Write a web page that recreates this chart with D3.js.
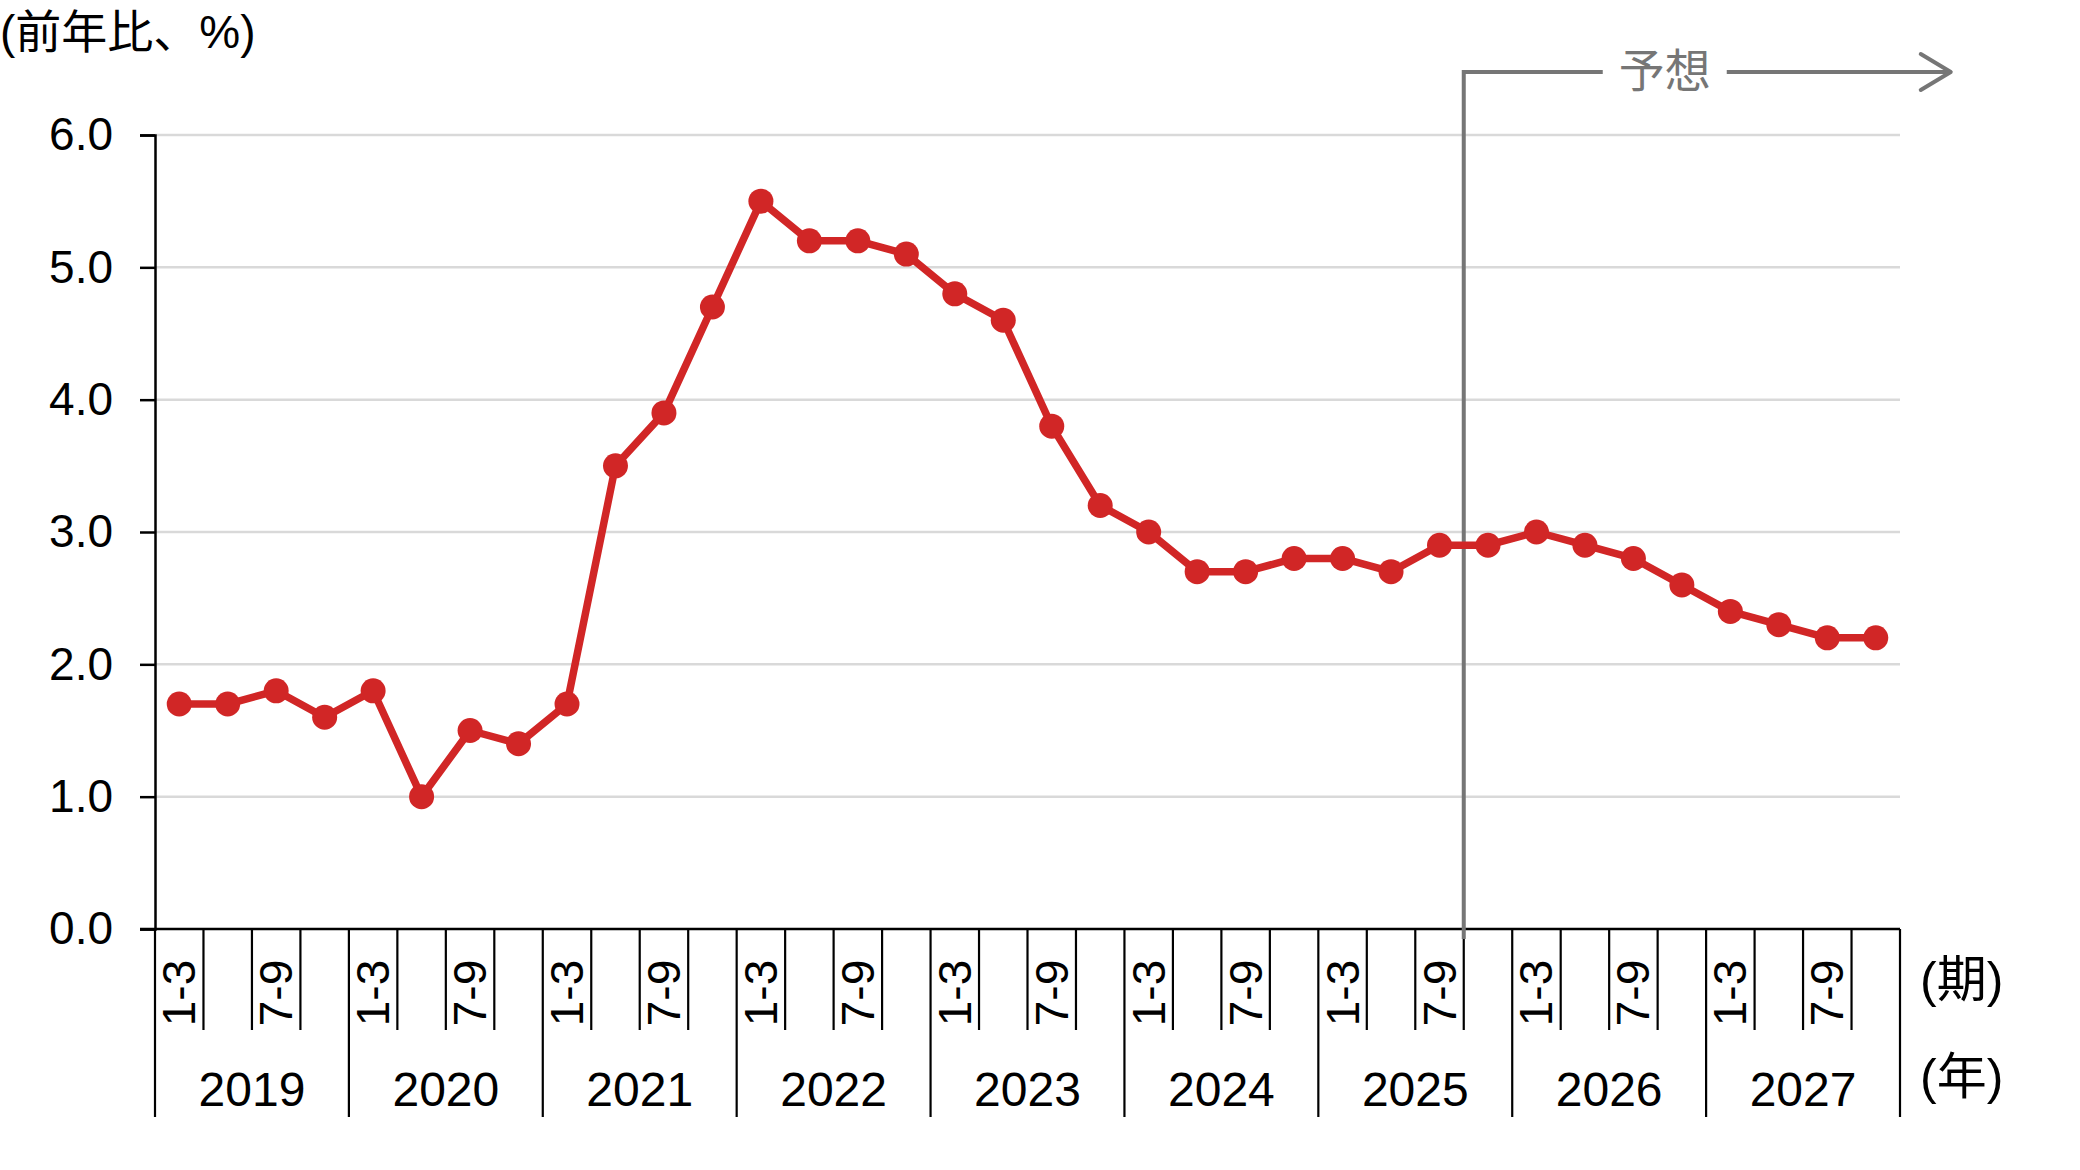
<!DOCTYPE html>
<html>
<head>
<meta charset="utf-8">
<script src="https://cdn.jsdelivr.net/npm/d3@7"></script>
<style>
  html, body { margin: 0; padding: 0; background: #ffffff; }
  svg { display: block; }
  text { font-family: "Liberation Sans", "Noto Sans CJK JP", sans-serif; }
</style>
</head>
<body>
<svg id="chart" width="2080" height="1170"></svg>
<script>
// ---- data ----
const years = ["2019", "2020", "2021", "2022", "2023", "2024", "2025", "2026", "2027"];
const quarters = ["1-3", "4-6", "7-9", "10-12"];
const values = [
  1.7, 1.7, 1.8, 1.6,   // 2019
  1.8, 1.0, 1.5, 1.4,   // 2020
  1.7, 3.5, 3.9, 4.7,   // 2021
  5.5, 5.2, 5.2, 5.1,   // 2022
  4.8, 4.6, 3.8, 3.2,   // 2023
  3.0, 2.7, 2.7, 2.8,   // 2024
  2.8, 2.7, 2.9, 2.9,   // 2025
  3.0, 2.9, 2.8, 2.6,   // 2026
  2.4, 2.3, 2.2, 2.2    // 2027
];
const yTicks = [0, 1, 2, 3, 4, 5, 6];
const yTitle = "(前年比、%)";
const quarterUnit = "(期)";
const yearUnit = "(年)";
const forecastLabel = "予想";
const forecastStartYear = "2025";
const forecastStartQuarter = "10-12";

(function () {
// ---- build categories ----
const categories = [];
years.forEach(y => quarters.forEach((q, i) => categories.push({ key: y + "-" + q, year: y, q: q, qi: i })));
const points = categories.map((c, i) => ({ ...c, v: values[i] }));

// ---- layout ----
const svg = d3.select("#chart");
const pLeft = 155, pRight = 1900, pTop = 135, pBottom = 929;
const FS = 46;

const x = d3.scaleBand().domain(categories.map(c => c.key)).range([pLeft, pRight]).padding(0);
const y = d3.scaleLinear().domain([0, 6]).range([pBottom, pTop]);

svg.append("rect").attr("width", 2080).attr("height", 1170).attr("fill", "#ffffff");

// gridlines
svg.append("g").selectAll("line").data(yTicks.filter(t => t > 0)).join("line")
  .attr("x1", pLeft).attr("x2", pRight)
  .attr("y1", d => y(d)).attr("y2", d => y(d))
  .attr("stroke", "#d9d9d9").attr("stroke-width", 2.5);

// y axis
const yAxis = d3.axisLeft(y).tickValues(yTicks).tickFormat(d3.format(".1f")).tickSize(15).tickPadding(27);
const gy = svg.append("g").attr("transform", `translate(${pLeft},0)`).call(yAxis);
gy.select(".domain").attr("stroke", "#000").attr("stroke-width", 2.5);
gy.selectAll(".tick line").attr("stroke", "#000").attr("stroke-width", 2.5);
gy.selectAll(".tick text").attr("font-size", FS).attr("fill", "#000")
  .style("font-family", "'Liberation Sans', sans-serif");

// x axis line
svg.append("line").attr("x1", pLeft - 15).attr("x2", pRight).attr("y1", pBottom).attr("y2", pBottom)
  .attr("stroke", "#000").attr("stroke-width", 2.5);

// quarter separators
const qSepBottom = 1030, ySepBottom = 1117;
svg.append("g").selectAll("line").data(categories.filter(c => c.qi > 0)).join("line")
  .attr("x1", d => x(d.key)).attr("x2", d => x(d.key))
  .attr("y1", pBottom).attr("y2", qSepBottom)
  .attr("stroke", "#000").attr("stroke-width", 2.2);

// year separators (incl. both ends)
const yearEdges = years.map(yr => x(yr + "-" + quarters[0])).concat([pRight]);
svg.append("g").selectAll("line").data(yearEdges).join("line")
  .attr("x1", d => d).attr("x2", d => d)
  .attr("y1", pBottom).attr("y2", ySepBottom)
  .attr("stroke", "#000").attr("stroke-width", 2.2);

// quarter labels (every other)
svg.append("g").selectAll("text").data(categories.filter(c => c.qi % 2 === 0)).join("text")
  .attr("transform", d => `translate(${x(d.key) + x.bandwidth() / 2},${993}) rotate(-90)`)
  .attr("text-anchor", "middle").attr("dominant-baseline", "central")
  .attr("font-size", FS).attr("fill", "#000")
  .style("font-family", "'Liberation Sans', sans-serif")
  .text(d => d.q);

// year labels
svg.append("g").selectAll("text").data(years).join("text")
  .attr("x", yr => x(yr + "-" + quarters[0]) + x.bandwidth() * 2)
  .attr("y", 1089)
  .attr("text-anchor", "middle").attr("dominant-baseline", "central")
  .attr("font-size", 48).attr("fill", "#000")
  .style("font-family", "'Liberation Sans', sans-serif")
  .text(d => d);

// unit labels
svg.append("text").attr("x", 1920).attr("y", 980).attr("dominant-baseline", "central")
  .attr("font-size", 50).attr("fill", "#000").text(quarterUnit);
svg.append("text").attr("x", 1920).attr("y", 1077).attr("dominant-baseline", "central")
  .attr("font-size", 50).attr("fill", "#000").text(yearUnit);

// y title
svg.append("text").attr("x", 0).attr("y", 32).attr("dominant-baseline", "central")
  .attr("font-size", FS).attr("fill", "#000").text(yTitle);

// forecast annotation
const fx = x(forecastStartYear + "-" + forecastStartQuarter);
const fy = 72;
const gray = "#767676";
const fg = svg.append("g").attr("stroke", gray).attr("stroke-width", 4).attr("fill", "none");
fg.append("path").attr("d", `M${fx},${pBottom + 10} L${fx},${fy} L${fx + 139},${fy}`);
fg.append("path").attr("d", `M${fx + 263},${fy} L${fx + 486},${fy}`);
fg.append("path").attr("d", `M${fx + 457},${fy - 18} L${fx + 487},${fy} L${fx + 457},${fy + 18}`)
  .attr("stroke-linecap", "round").attr("stroke-linejoin", "round");
svg.append("text").attr("x", fx + 201).attr("y", fy - 5)
  .attr("text-anchor", "middle").attr("dominant-baseline", "central")
  .attr("font-size", 46).attr("fill", gray)
  .style("font-family", "'Noto Sans CJK JP', sans-serif")
  .text(forecastLabel);

// line + markers
const red = "#d12626";
const line = d3.line().x(d => x(d.key) + x.bandwidth() / 2).y(d => y(d.v));
svg.append("path").datum(points).attr("d", line)
  .attr("fill", "none").attr("stroke", red).attr("stroke-width", 7.5).attr("stroke-linejoin", "round");
svg.append("g").selectAll("circle").data(points).join("circle")
  .attr("cx", d => x(d.key) + x.bandwidth() / 2).attr("cy", d => y(d.v))
  .attr("r", 12.5).attr("fill", red);
})();
</script>
</body>
</html>
